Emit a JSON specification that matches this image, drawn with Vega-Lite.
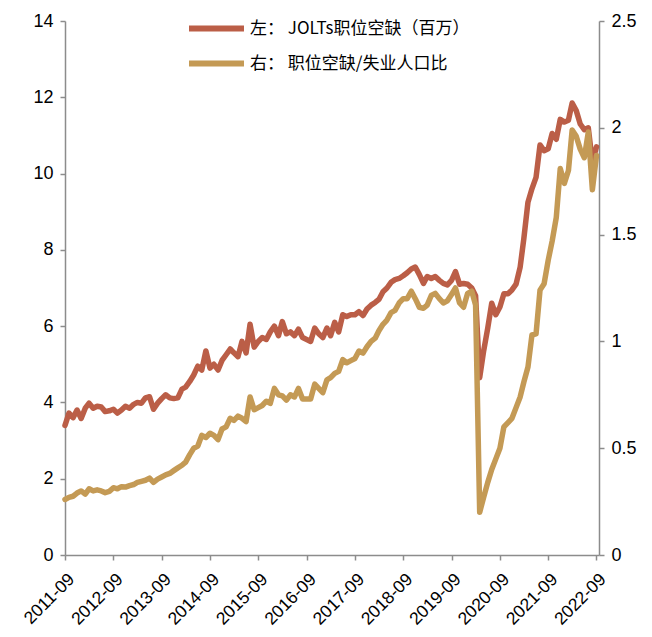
{
  "$schema": "https://vega.github.io/schema/vega-lite/v6.json",
  "width": 534,
  "height": 534,
  "autosize": {"type": "none"},
  "padding": {"left": 65, "top": 21, "right": 53, "bottom": 82},
  "background": "#ffffff",
  "config": {
    "view": {"stroke": null},
    "axis": {
      "grid": false,
      "domainColor": "#8c8c8c",
      "domainWidth": 1.5,
      "tickColor": "#8c8c8c",
      "tickWidth": 1.5,
      "tickSize": 5,
      "labelFont": "Liberation Sans",
      "labelFontSize": 18,
      "labelColor": "#000000",
      "labelPadding": 7,
      "title": null
    },
    "legend": {
      "orient": "none",
      "legendX": 139,
      "legendY": -5,
      "symbolType": "M-3,0H3",
      "symbolSize": 336,
      "symbolStrokeWidth": 6,
      "labelFont": "Noto Sans CJK SC",
      "labelFontSize": 17,
      "labelColor": "#000000",
      "labelOffset": 21,
      "rowPadding": 10,
      "labelLimit": 400
    }
  },
  "data": {
    "values": [
      {"month": "2011-09-01", "jolts": 3.40, "ratio": 0.26},
      {"month": "2011-10-01", "jolts": 3.72, "ratio": 0.27},
      {"month": "2011-11-01", "jolts": 3.60, "ratio": 0.275},
      {"month": "2011-12-01", "jolts": 3.80, "ratio": 0.29},
      {"month": "2012-01-01", "jolts": 3.58, "ratio": 0.30},
      {"month": "2012-02-01", "jolts": 3.85, "ratio": 0.285},
      {"month": "2012-03-01", "jolts": 3.98, "ratio": 0.31},
      {"month": "2012-04-01", "jolts": 3.85, "ratio": 0.30},
      {"month": "2012-05-01", "jolts": 3.90, "ratio": 0.305},
      {"month": "2012-06-01", "jolts": 3.88, "ratio": 0.30},
      {"month": "2012-07-01", "jolts": 3.76, "ratio": 0.292},
      {"month": "2012-08-01", "jolts": 3.78, "ratio": 0.298},
      {"month": "2012-09-01", "jolts": 3.82, "ratio": 0.315},
      {"month": "2012-10-01", "jolts": 3.72, "ratio": 0.31},
      {"month": "2012-11-01", "jolts": 3.80, "ratio": 0.32},
      {"month": "2012-12-01", "jolts": 3.90, "ratio": 0.318},
      {"month": "2013-01-01", "jolts": 3.85, "ratio": 0.325},
      {"month": "2013-02-01", "jolts": 3.95, "ratio": 0.33},
      {"month": "2013-03-01", "jolts": 4.00, "ratio": 0.34},
      {"month": "2013-04-01", "jolts": 3.98, "ratio": 0.345},
      {"month": "2013-05-01", "jolts": 4.12, "ratio": 0.35},
      {"month": "2013-06-01", "jolts": 4.15, "ratio": 0.36},
      {"month": "2013-07-01", "jolts": 3.82, "ratio": 0.34},
      {"month": "2013-08-01", "jolts": 3.98, "ratio": 0.355},
      {"month": "2013-09-01", "jolts": 4.10, "ratio": 0.365},
      {"month": "2013-10-01", "jolts": 4.20, "ratio": 0.375},
      {"month": "2013-11-01", "jolts": 4.12, "ratio": 0.382},
      {"month": "2013-12-01", "jolts": 4.10, "ratio": 0.395},
      {"month": "2014-01-01", "jolts": 4.12, "ratio": 0.408},
      {"month": "2014-02-01", "jolts": 4.35, "ratio": 0.42},
      {"month": "2014-03-01", "jolts": 4.40, "ratio": 0.435},
      {"month": "2014-04-01", "jolts": 4.55, "ratio": 0.47},
      {"month": "2014-05-01", "jolts": 4.72, "ratio": 0.50},
      {"month": "2014-06-01", "jolts": 4.95, "ratio": 0.51},
      {"month": "2014-07-01", "jolts": 4.85, "ratio": 0.56},
      {"month": "2014-08-01", "jolts": 5.35, "ratio": 0.55},
      {"month": "2014-09-01", "jolts": 4.90, "ratio": 0.57},
      {"month": "2014-10-01", "jolts": 5.00, "ratio": 0.56},
      {"month": "2014-11-01", "jolts": 4.85, "ratio": 0.54},
      {"month": "2014-12-01", "jolts": 5.10, "ratio": 0.59},
      {"month": "2015-01-01", "jolts": 5.25, "ratio": 0.60},
      {"month": "2015-02-01", "jolts": 5.40, "ratio": 0.64},
      {"month": "2015-03-01", "jolts": 5.30, "ratio": 0.63},
      {"month": "2015-04-01", "jolts": 5.20, "ratio": 0.65},
      {"month": "2015-05-01", "jolts": 5.60, "ratio": 0.64},
      {"month": "2015-06-01", "jolts": 5.30, "ratio": 0.625},
      {"month": "2015-07-01", "jolts": 6.05, "ratio": 0.74},
      {"month": "2015-08-01", "jolts": 5.45, "ratio": 0.68},
      {"month": "2015-09-01", "jolts": 5.60, "ratio": 0.69},
      {"month": "2015-10-01", "jolts": 5.70, "ratio": 0.70},
      {"month": "2015-11-01", "jolts": 5.65, "ratio": 0.72},
      {"month": "2015-12-01", "jolts": 5.85, "ratio": 0.71},
      {"month": "2016-01-01", "jolts": 6.00, "ratio": 0.78},
      {"month": "2016-02-01", "jolts": 5.75, "ratio": 0.75},
      {"month": "2016-03-01", "jolts": 6.12, "ratio": 0.745},
      {"month": "2016-04-01", "jolts": 5.80, "ratio": 0.725},
      {"month": "2016-05-01", "jolts": 5.85, "ratio": 0.75},
      {"month": "2016-06-01", "jolts": 5.75, "ratio": 0.74},
      {"month": "2016-07-01", "jolts": 5.92, "ratio": 0.78},
      {"month": "2016-08-01", "jolts": 5.70, "ratio": 0.73},
      {"month": "2016-09-01", "jolts": 5.65, "ratio": 0.73},
      {"month": "2016-10-01", "jolts": 5.60, "ratio": 0.73},
      {"month": "2016-11-01", "jolts": 5.95, "ratio": 0.80},
      {"month": "2016-12-01", "jolts": 5.80, "ratio": 0.78},
      {"month": "2017-01-01", "jolts": 5.70, "ratio": 0.76},
      {"month": "2017-02-01", "jolts": 5.95, "ratio": 0.82},
      {"month": "2017-03-01", "jolts": 5.75, "ratio": 0.83},
      {"month": "2017-04-01", "jolts": 6.10, "ratio": 0.85},
      {"month": "2017-05-01", "jolts": 5.85, "ratio": 0.86},
      {"month": "2017-06-01", "jolts": 6.30, "ratio": 0.915},
      {"month": "2017-07-01", "jolts": 6.25, "ratio": 0.90},
      {"month": "2017-08-01", "jolts": 6.30, "ratio": 0.91},
      {"month": "2017-09-01", "jolts": 6.30, "ratio": 0.92},
      {"month": "2017-10-01", "jolts": 6.38, "ratio": 0.955},
      {"month": "2017-11-01", "jolts": 6.28, "ratio": 0.945},
      {"month": "2017-12-01", "jolts": 6.45, "ratio": 0.975},
      {"month": "2018-01-01", "jolts": 6.55, "ratio": 1.00},
      {"month": "2018-02-01", "jolts": 6.62, "ratio": 1.015},
      {"month": "2018-03-01", "jolts": 6.70, "ratio": 1.05},
      {"month": "2018-04-01", "jolts": 6.90, "ratio": 1.08},
      {"month": "2018-05-01", "jolts": 7.00, "ratio": 1.10},
      {"month": "2018-06-01", "jolts": 7.15, "ratio": 1.135},
      {"month": "2018-07-01", "jolts": 7.22, "ratio": 1.145},
      {"month": "2018-08-01", "jolts": 7.25, "ratio": 1.18},
      {"month": "2018-09-01", "jolts": 7.32, "ratio": 1.20},
      {"month": "2018-10-01", "jolts": 7.40, "ratio": 1.20},
      {"month": "2018-11-01", "jolts": 7.50, "ratio": 1.235},
      {"month": "2018-12-01", "jolts": 7.55, "ratio": 1.20},
      {"month": "2019-01-01", "jolts": 7.35, "ratio": 1.16},
      {"month": "2019-02-01", "jolts": 7.12, "ratio": 1.155},
      {"month": "2019-03-01", "jolts": 7.30, "ratio": 1.17},
      {"month": "2019-04-01", "jolts": 7.25, "ratio": 1.215},
      {"month": "2019-05-01", "jolts": 7.30, "ratio": 1.225},
      {"month": "2019-06-01", "jolts": 7.20, "ratio": 1.20},
      {"month": "2019-07-01", "jolts": 7.12, "ratio": 1.18},
      {"month": "2019-08-01", "jolts": 7.08, "ratio": 1.19},
      {"month": "2019-09-01", "jolts": 7.20, "ratio": 1.22},
      {"month": "2019-10-01", "jolts": 7.43, "ratio": 1.25},
      {"month": "2019-11-01", "jolts": 7.10, "ratio": 1.18},
      {"month": "2019-12-01", "jolts": 7.12, "ratio": 1.16},
      {"month": "2020-01-01", "jolts": 7.10, "ratio": 1.225},
      {"month": "2020-02-01", "jolts": 7.00, "ratio": 1.235},
      {"month": "2020-03-01", "jolts": 6.80, "ratio": 1.17},
      {"month": "2020-04-01", "jolts": 4.65, "ratio": 0.20},
      {"month": "2020-05-01", "jolts": 5.35, "ratio": 0.27},
      {"month": "2020-06-01", "jolts": 5.95, "ratio": 0.34},
      {"month": "2020-07-01", "jolts": 6.60, "ratio": 0.40},
      {"month": "2020-08-01", "jolts": 6.30, "ratio": 0.45},
      {"month": "2020-09-01", "jolts": 6.50, "ratio": 0.50},
      {"month": "2020-10-01", "jolts": 6.85, "ratio": 0.60},
      {"month": "2020-11-01", "jolts": 6.85, "ratio": 0.62},
      {"month": "2020-12-01", "jolts": 6.95, "ratio": 0.64},
      {"month": "2021-01-01", "jolts": 7.10, "ratio": 0.69},
      {"month": "2021-02-01", "jolts": 7.55, "ratio": 0.74},
      {"month": "2021-03-01", "jolts": 8.30, "ratio": 0.81},
      {"month": "2021-04-01", "jolts": 9.25, "ratio": 0.88},
      {"month": "2021-05-01", "jolts": 9.60, "ratio": 1.03},
      {"month": "2021-06-01", "jolts": 9.90, "ratio": 1.035},
      {"month": "2021-07-01", "jolts": 10.75, "ratio": 1.24},
      {"month": "2021-08-01", "jolts": 10.60, "ratio": 1.27},
      {"month": "2021-09-01", "jolts": 10.65, "ratio": 1.38},
      {"month": "2021-10-01", "jolts": 11.05, "ratio": 1.47},
      {"month": "2021-11-01", "jolts": 10.90, "ratio": 1.58},
      {"month": "2021-12-01", "jolts": 11.42, "ratio": 1.81},
      {"month": "2022-01-01", "jolts": 11.35, "ratio": 1.74},
      {"month": "2022-02-01", "jolts": 11.40, "ratio": 1.80},
      {"month": "2022-03-01", "jolts": 11.85, "ratio": 1.99},
      {"month": "2022-04-01", "jolts": 11.65, "ratio": 1.96},
      {"month": "2022-05-01", "jolts": 11.30, "ratio": 1.90},
      {"month": "2022-06-01", "jolts": 11.15, "ratio": 1.86},
      {"month": "2022-07-01", "jolts": 11.20, "ratio": 1.98},
      {"month": "2022-08-01", "jolts": 10.30, "ratio": 1.71},
      {"month": "2022-09-01", "jolts": 10.70, "ratio": 1.87}
    ]
  },
  "encoding": {
    "x": {
      "field": "month",
      "type": "temporal",
      "scale": {
        "type": "utc",
        "domain": [
          {"year": 2011, "month": 9, "date": 1, "utc": true},
          {"year": 2022, "month": 9, "date": 20, "utc": true}
        ]
      },
      "axis": {
        "values": [
          {"year": 2011, "month": 9, "date": 1, "utc": true},
          {"year": 2012, "month": 9, "date": 1, "utc": true},
          {"year": 2013, "month": 9, "date": 1, "utc": true},
          {"year": 2014, "month": 9, "date": 1, "utc": true},
          {"year": 2015, "month": 9, "date": 1, "utc": true},
          {"year": 2016, "month": 9, "date": 1, "utc": true},
          {"year": 2017, "month": 9, "date": 1, "utc": true},
          {"year": 2018, "month": 9, "date": 1, "utc": true},
          {"year": 2019, "month": 9, "date": 1, "utc": true},
          {"year": 2020, "month": 9, "date": 1, "utc": true},
          {"year": 2021, "month": 9, "date": 1, "utc": true},
          {"year": 2022, "month": 9, "date": 1, "utc": true}
        ],
        "labelExpr": "utcFormat(datum.value, '%Y-%m')",
        "labelAngle": -45,
        "labelAlign": "right",
        "labelBaseline": "top",
        "labelFontSize": 17.5,
        "labelOverlap": false,
        "labelPadding": 10
      }
    }
  },
  "layer": [
    {
      "mark": {"type": "line", "strokeWidth": 5.5, "strokeJoin": "round", "strokeCap": "round"},
      "encoding": {
        "y": {
          "field": "jolts",
          "type": "quantitative",
          "scale": {"domain": [0, 14]},
          "axis": {"orient": "left", "values": [0, 2, 4, 6, 8, 10, 12, 14]}
        },
        "color": {
          "datum": "左： JOLTs职位空缺（百万）",
          "type": "nominal",
          "scale": {
            "domain": ["左： JOLTs职位空缺（百万）", "右： 职位空缺/失业人口比"],
            "range": ["#BB5E47", "#C49A55"]
          },
          "legend": {"title": null}
        }
      }
    },
    {
      "mark": {"type": "line", "strokeWidth": 5.5, "strokeJoin": "round", "strokeCap": "round"},
      "encoding": {
        "y": {
          "field": "ratio",
          "type": "quantitative",
          "scale": {"domain": [0, 2.5]},
          "axis": {"orient": "right", "values": [0, 0.5, 1, 1.5, 2, 2.5], "format": "~g"}
        },
        "color": {"datum": "右： 职位空缺/失业人口比", "type": "nominal"}
      }
    }
  ],
  "resolve": {"scale": {"y": "independent"}}
}
